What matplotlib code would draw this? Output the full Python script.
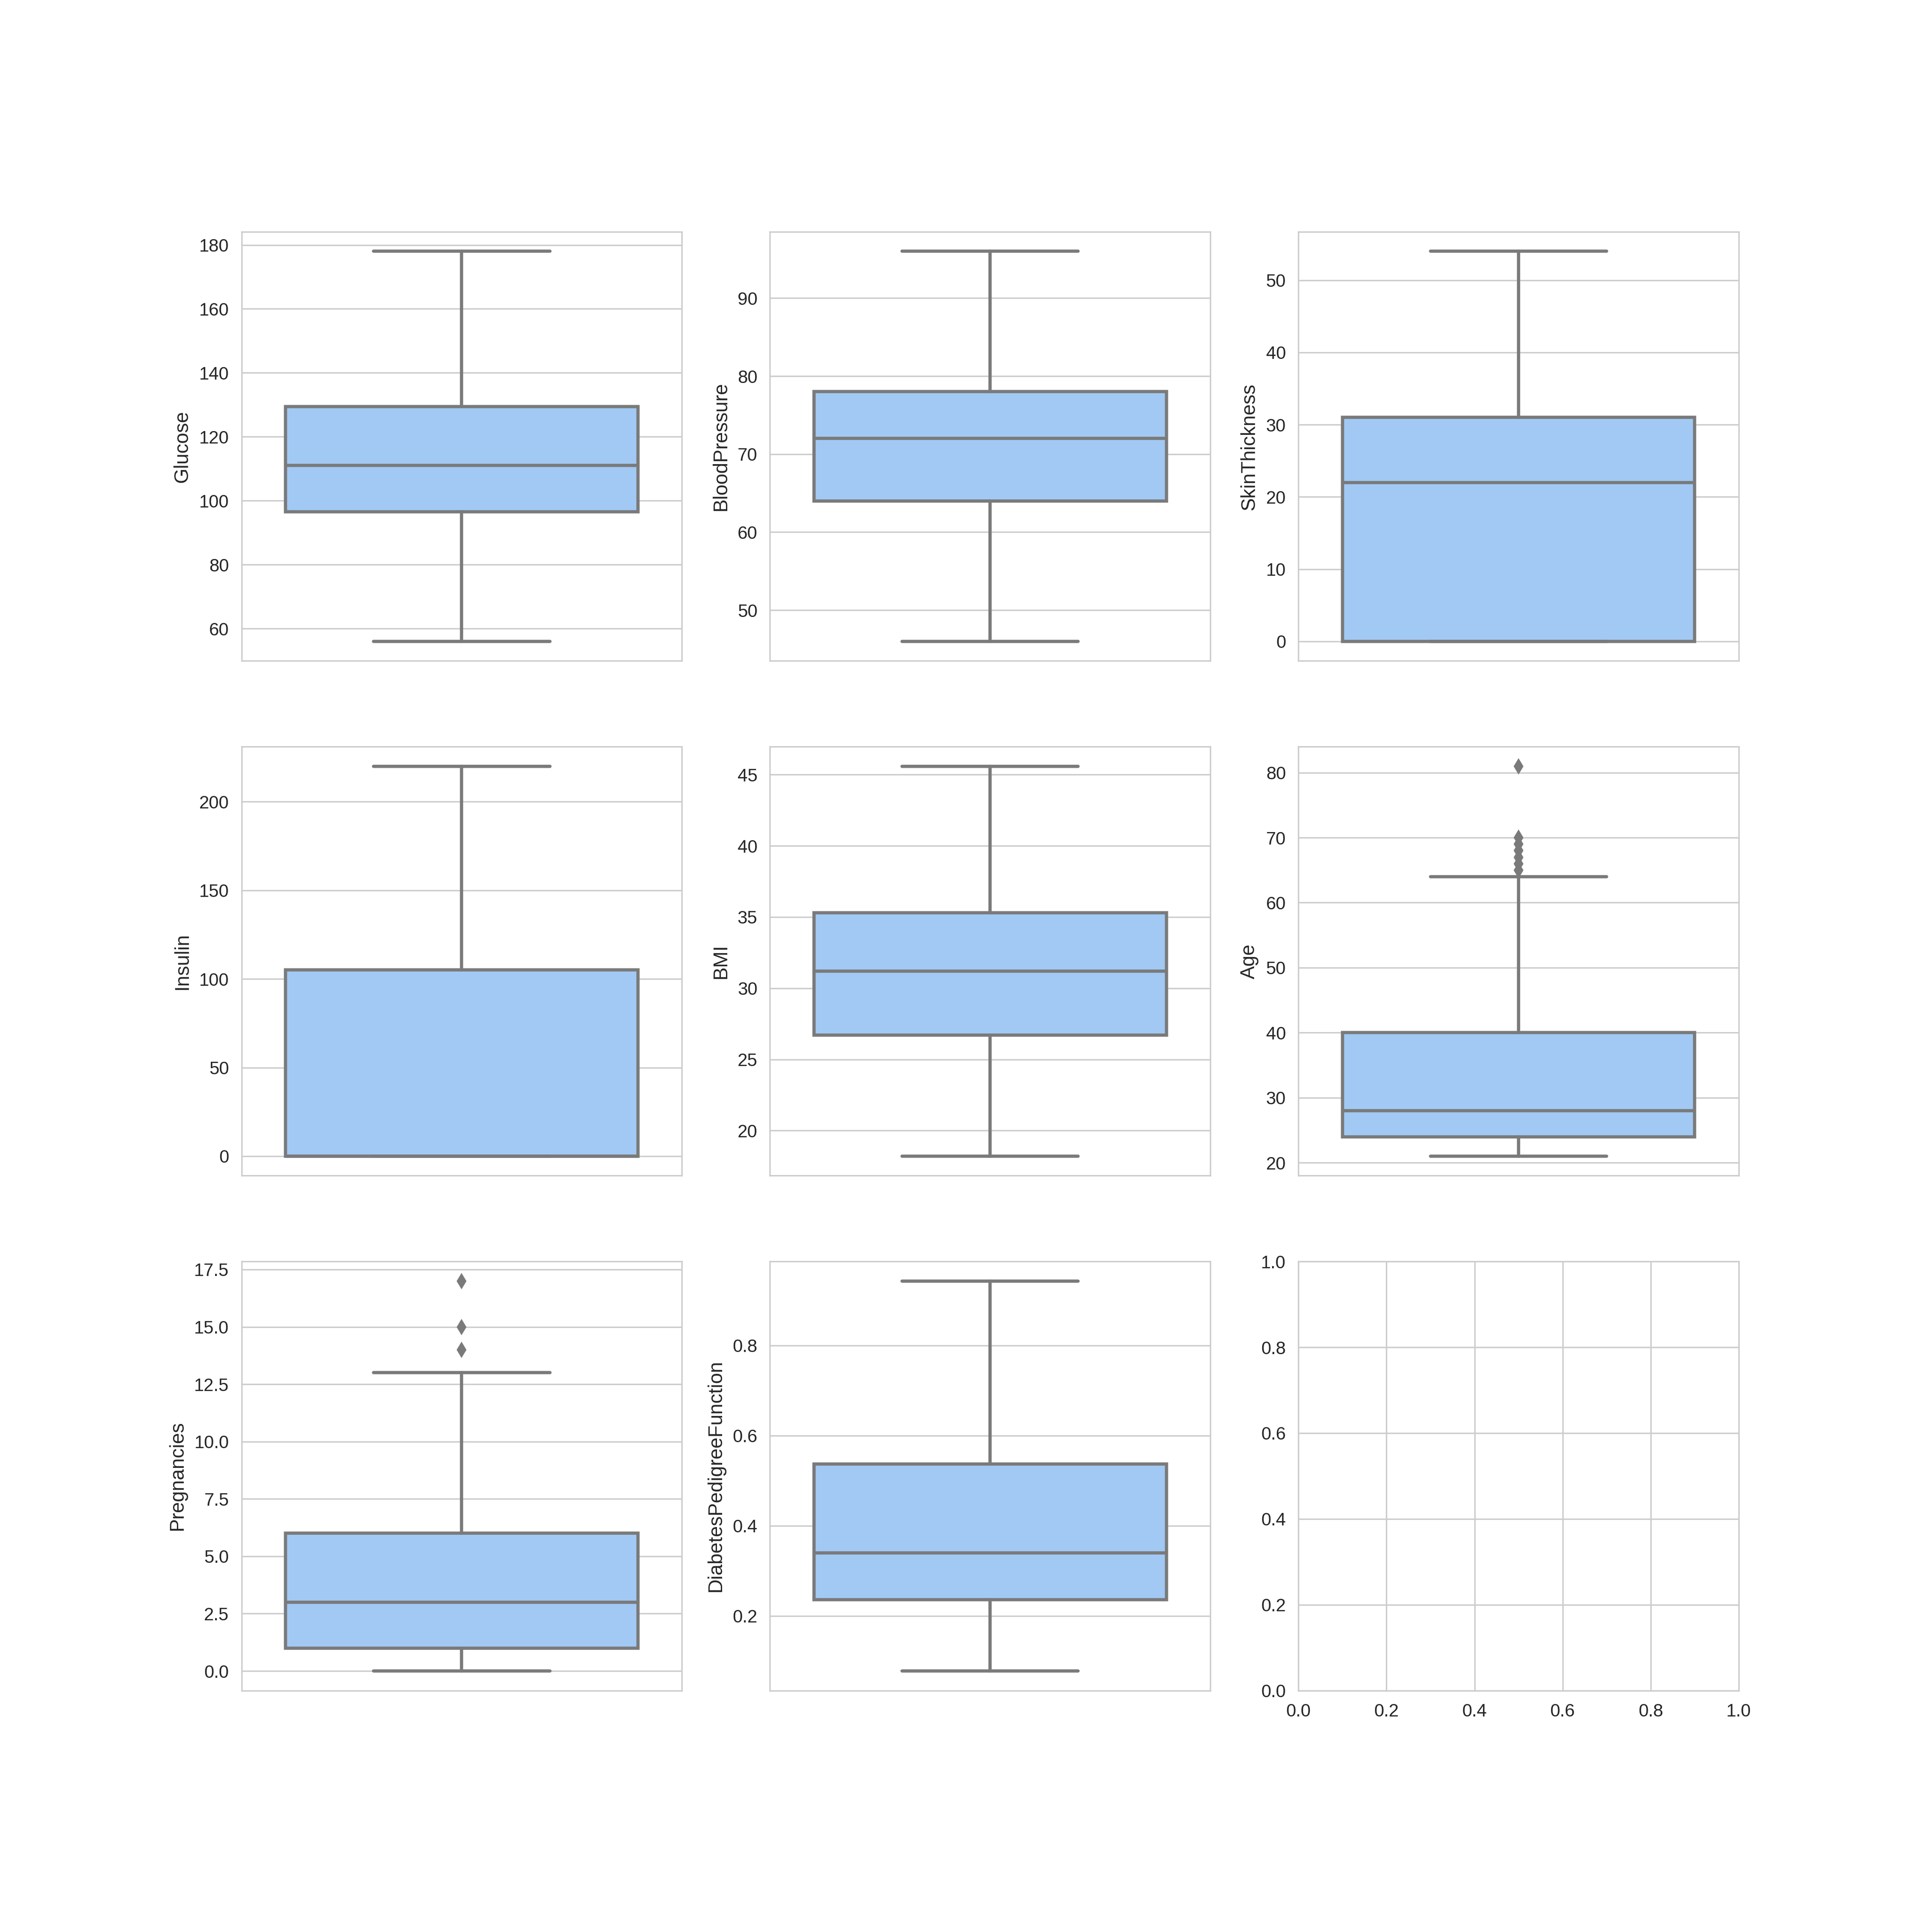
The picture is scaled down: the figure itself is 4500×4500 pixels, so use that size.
import colorsys
import matplotlib
matplotlib.use("Agg")
import matplotlib.pyplot as plt
import seaborn as sns

sns.set_style("whitegrid")
plt.rcParams['font.family'] = ['Liberation Sans', 'DejaVu Sans']

# box statistics (whislo, q1, med, q3, whishi, fliers)
columns = ['Glucose', 'BloodPressure', 'SkinThickness',
           'Insulin', 'BMI', 'Age',
           'Pregnancies', 'DiabetesPedigreeFunction']
whislo = [56, 46, 0, 0, 18.2, 21, 0, 0.078]
q1 = [96.5, 64, 0, 0, 26.7, 24, 1, 0.236]
med = [111, 72, 22, 0, 31.2, 28, 3, 0.340]
q3 = [129.5, 78, 31, 105, 35.3, 40, 6, 0.537]
whishi = [178, 96, 54, 220, 45.6, 64, 13, 0.943]
fliers = [[], [], [], [], [], [65, 66, 67, 68, 69, 70, 81], [14, 15, 17], []]

face = sns.color_palette('pastel')[0]
h, l, s = colorsys.rgb_to_hls(*face)
gray = (l * 0.6,) * 3
lw = 1.8

fig, axes = plt.subplots(3, 3, figsize=(15, 15))
fig.subplots_adjust(left=0.125, right=0.9, top=0.88, bottom=0.125,
                    hspace=0.2, wspace=0.2)

for i, col in enumerate(columns):
    ax = axes.flat[i]
    stats = [dict(whislo=whislo[i], q1=q1[i], med=med[i], q3=q3[i],
                  whishi=whishi[i], fliers=fliers[i], label='')]
    ax.bxp(stats, positions=[0], widths=0.8, patch_artist=True,
           boxprops=dict(facecolor=face, edgecolor=gray, linewidth=lw),
           medianprops=dict(color=gray, linewidth=lw),
           whiskerprops=dict(color=gray, linewidth=lw),
           capprops=dict(color=gray, linewidth=lw),
           flierprops=dict(marker='d', markerfacecolor=gray, markeredgecolor=gray,
                           markersize=5, linestyle='none'),
           capwidths=0.4)
    ax.set_xlim(-0.5, 0.5)
    ax.set_xticks([])
    ax.set_ylabel(col, fontsize=11)

plt.savefig('out.png', dpi=300)
